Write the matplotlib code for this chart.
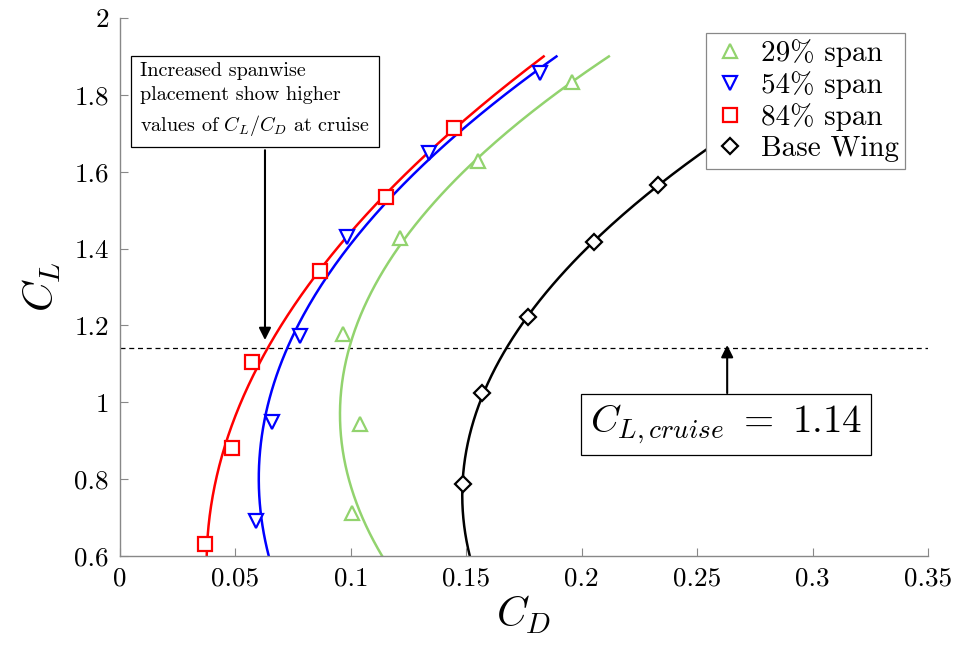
import numpy as np
import matplotlib
matplotlib.use("Agg")
import matplotlib.pyplot as plt

plt.rcParams["font.family"] = "serif"
plt.rcParams["font.serif"] = ["cmr10", "DejaVu Serif"]
plt.rcParams["mathtext.fontset"] = "cm"
plt.rcParams["axes.formatter.use_mathtext"] = True

# dados (CD, CL)
cd_29 = [0.1005, 0.104, 0.0966, 0.1213, 0.155, 0.196]
cl_29 = [0.712, 0.943, 1.178, 1.427, 1.628, 1.833]
cd_54 = [0.0589, 0.0658, 0.078, 0.0983, 0.134, 0.182]
cl_54 = [0.691, 0.949, 1.172, 1.430, 1.649, 1.857]
cd_84 = [0.0368, 0.0485, 0.0572, 0.0866, 0.1152, 0.1447]
cl_84 = [0.631, 0.881, 1.105, 1.342, 1.534, 1.714]
cd_base = [0.1486, 0.1568, 0.1767, 0.2053, 0.233]
cl_base = [0.787, 1.024, 1.222, 1.417, 1.565]

cl_cruise = 1.14

series = [
    (cd_29, cl_29, "#92d36e", "^", "29% span"),
    (cd_54, cl_54, "#0000ff", "v", "54% span"),
    (cd_84, cl_84, "#ff0000", "s", "84% span"),
    (cd_base, cl_base, "black", "D", "Base Wing"),
]

fig = plt.figure(figsize=(9.6, 6.57), dpi=100)
ax = fig.add_axes([0.125, 0.1537, 0.8417, 0.8189])

cl_fit = np.linspace(0.6, 1.9, 200)
for cd, cl, cor, marc, nome in series:
    coef = np.polyfit(cl, cd, 2)
    ax.plot(np.polyval(coef, cl_fit), cl_fit, color=cor, lw=1.8, zorder=2)
    ms = 8.5 if marc == "D" else 9.5
    ax.plot(cd, cl, linestyle="none", marker=marc, ms=ms, mfc="white",
            mec=cor, mew=1.6, label=nome, zorder=3)

ax.axhline(cl_cruise, color="black", ls="--", lw=0.9, dashes=(4, 3), zorder=1)

ax.set_xlim(0, 0.35)
ax.set_ylim(0.6, 2)
xt = [0, 0.05, 0.1, 0.15, 0.2, 0.25, 0.3, 0.35]
yt = [0.6, 0.8, 1, 1.2, 1.4, 1.6, 1.8, 2]
ax.set_xticks(xt)
ax.set_xticklabels([f"{v:g}" for v in xt])
ax.set_yticks(yt)
ax.set_yticklabels([f"{v:g}" for v in yt])
ax.tick_params(direction="in", length=6, width=0.8, color="#888888",
               labelsize=19.5, pad=8)
for lado in ["top", "right"]:
    ax.spines[lado].set_visible(False)
for lado in ["left", "bottom"]:
    ax.spines[lado].set_color("#888888")
    ax.spines[lado].set_linewidth(1.0)

ax.set_xlabel("$C_D$", fontsize=30, labelpad=2)
ax.set_ylabel("$C_L$", fontsize=30, labelpad=8)

leg = ax.legend(loc="upper right", fontsize=21, frameon=True, fancybox=False,
                framealpha=1, edgecolor="#888888", handletextpad=0.45,
                borderpad=0.22, labelspacing=0.15, handlelength=1.2,
                bbox_to_anchor=(0.99, 1.0))
leg.get_frame().set_linewidth(0.9)
leg.set_zorder(5)

ax.text(0.0088, 1.885,
        "Increased spanwise\nplacement show higher\nvalues of $C_L/C_D$ at cruise",
        fontsize=14.5, va="top", ha="left", linespacing=1.45,
        bbox=dict(boxstyle="square,pad=0.45", fc="white", ec="black", lw=0.9),
        zorder=6)
ax.annotate("", xy=(0.0628, 1.162), xytext=(0.0628, 1.656),
            arrowprops=dict(arrowstyle="-|>", color="black", lw=1.5,
                            mutation_scale=18, shrinkA=0, shrinkB=0))

ax.text(0.2625, 0.943, r"$C_{L,cruise}\ =\ 1.14$", fontsize=28,
        ha="center", va="center",
        bbox=dict(boxstyle="square,pad=0.22", fc="white", ec="black", lw=0.9),
        zorder=6)
ax.annotate("", xy=(0.263, 1.149), xytext=(0.263, 1.024),
            arrowprops=dict(arrowstyle="-|>", color="black", lw=1.5,
                            mutation_scale=18, shrinkA=0, shrinkB=0))

plt.savefig("out.png", dpi=100)
